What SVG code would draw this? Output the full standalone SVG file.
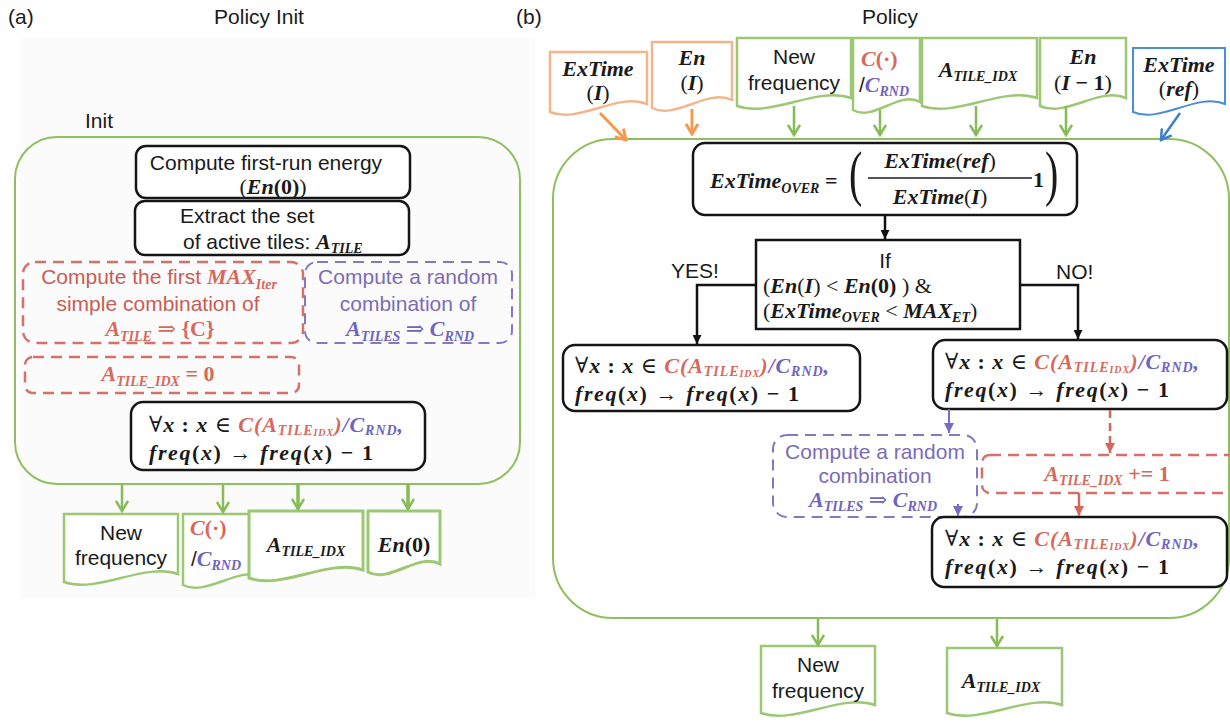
<svg xmlns="http://www.w3.org/2000/svg" width="1230" height="723" viewBox="0 0 1230 723">
<defs>
<style>
.t{font-family:"Liberation Sans",Arial,sans-serif;font-size:21px;fill:#1a1a1a}
.m{font-family:"Liberation Serif","DejaVu Serif",serif;font-size:22px;font-weight:bold;font-style:italic;fill:#1a1a1a}
.s{font-size:14px}
.ss{font-size:10px}
.u{font-style:normal}
.n{font-style:normal;font-weight:normal}
.big{font-family:"Liberation Serif",serif;font-size:40px;font-weight:normal;fill:#1a1a1a}
.red{fill:#d6695c}
.pur{fill:#6f64bf}
.rt{fill:#c95d55}
.pt{fill:#7b6cb5}
.bx{fill:#fff;stroke:#151515;stroke-width:2.5}
.grp{fill:none;stroke:#8fbf5f;stroke-width:2}
.rd{fill:none;stroke:#d4716a;stroke-width:2.5;stroke-dasharray:11 7}
.pd{fill:none;stroke:#8478c4;stroke-width:2;stroke-dasharray:11 7}
.gd{fill:#fff;stroke:#9cc874;stroke-width:2.5}
.od{fill:#fff;stroke:#f1b68c;stroke-width:2.5}
.bd{fill:#fff;stroke:#4a8ed6;stroke-width:2}
.ga{fill:none;stroke:#86bb55;stroke-width:2.5}
.oa{fill:none;stroke:#f39a4c;stroke-width:3}
.ba{fill:none;stroke:#3d7fcf;stroke-width:2.5}
.ka{fill:none;stroke:#111;stroke-width:2.5}
.pa{fill:none;stroke:#7a6cc4;stroke-width:2}
.ra{fill:none;stroke:#d4665c;stroke-width:2.5}
</style>
<marker id="mg" viewBox="0 0 14 14" refX="12" refY="7" markerWidth="14" markerHeight="14" markerUnits="userSpaceOnUse" orient="auto"><path d="M2,1 L12,7 L2,13" fill="none" stroke="#86bb55" stroke-width="2.5"/></marker>
<marker id="mo" viewBox="0 0 14 14" refX="12" refY="7" markerWidth="14" markerHeight="14" markerUnits="userSpaceOnUse" orient="auto"><path d="M2,1 L12,7 L2,13" fill="none" stroke="#f39a4c" stroke-width="3"/></marker>
<marker id="mb" viewBox="0 0 14 14" refX="12" refY="7" markerWidth="14" markerHeight="14" markerUnits="userSpaceOnUse" orient="auto"><path d="M2,1 L12,7 L2,13" fill="none" stroke="#3d7fcf" stroke-width="2.5"/></marker>
<marker id="mk" viewBox="0 0 10 10" refX="10" refY="5" markerWidth="9" markerHeight="9" markerUnits="userSpaceOnUse" orient="auto"><path d="M0,0 L10,5 L0,10 z" fill="#111"/></marker>
<marker id="mp" viewBox="0 0 10 10" refX="10" refY="5" markerWidth="10" markerHeight="10" markerUnits="userSpaceOnUse" orient="auto"><path d="M0,0 L10,5 L0,10 z" fill="#7a6cc4"/></marker>
<marker id="mr" viewBox="0 0 10 10" refX="10" refY="5" markerWidth="10" markerHeight="10" markerUnits="userSpaceOnUse" orient="auto"><path d="M0,0 L10,5 L0,10 z" fill="#d4665c"/></marker>
</defs>

<rect width="1230" height="723" fill="#fff"/>
<rect x="20" y="38" width="515" height="560" fill="#fbfbfb"/>

<g id="titles">
<text class="t" x="8" y="24">(a)</text>
<text class="t" x="259" y="24" text-anchor="middle">Policy Init</text>
<text class="t" x="516" y="24">(b)</text>
<text class="t" x="890" y="24" text-anchor="middle">Policy</text>
</g>

<!-- ===== Panel (a) ===== -->
<g id="init-group">
<text class="t" x="85" y="128">Init</text>
<rect class="grp" x="15" y="137" width="505" height="347" rx="42"/>
</g>

<g id="a-energy">
<rect class="bx" x="136" y="146" width="274" height="52" rx="10"/>
<text class="t" x="266" y="170" text-anchor="middle">Compute first-run energy</text>
<text class="m" x="273" y="194" text-anchor="middle"><tspan class="n">(</tspan>En<tspan class="u">(0)</tspan><tspan class="n">)</tspan></text>
</g>

<g id="a-extract">
<rect class="bx" x="135" y="201" width="274" height="54" rx="10"/>
<text class="t" x="180" y="223">Extract the set</text>
<text class="t" x="183" y="249">of active tiles: <tspan class="m">A</tspan><tspan class="m s" dy="4">TILE</tspan></text>
</g>

<g id="a-first-comb">
<rect class="rd" x="23" y="262" width="280" height="81" rx="12"/>
<text class="t rt" x="159" y="284" text-anchor="middle">Compute the first <tspan class="m red">MAX</tspan><tspan class="m red s" dy="5">Iter</tspan></text>
<text class="t rt" x="158" y="311" text-anchor="middle">simple combination of</text>
<text class="m red" x="160" y="336" text-anchor="middle">A<tspan class="s" dy="5">TILE</tspan><tspan class="n" dy="-5"> ⇒ </tspan><tspan class="u">{C}</tspan></text>
</g>

<g id="a-random-comb">
<rect class="pd" x="305" y="262" width="207" height="81" rx="12"/>
<text class="t pt" x="408" y="284" text-anchor="middle">Compute a random</text>
<text class="t pt" x="408" y="311" text-anchor="middle">combination of</text>
<text class="m pur" x="410" y="336" text-anchor="middle">A<tspan class="s" dy="5">TILES</tspan><tspan class="n" dy="-5"> ⇒ </tspan>C<tspan class="s" dy="5">RND</tspan></text>
</g>

<g id="a-idx0">
<rect class="rd" x="25" y="357" width="274" height="36" rx="8"/>
<text class="m red" x="158" y="381" text-anchor="middle">A<tspan class="s" dy="5">TILE_IDX</tspan><tspan class="u" dy="-5"> = 0</tspan></text>
</g>

<g id="a-freq">
<rect class="bx" x="131" y="402" width="294" height="68" rx="12"/>
<text class="m" x="149" y="432" textLength="254"><tspan class="n">∀</tspan>x<tspan class="u"> : </tspan>x <tspan class="n">∈</tspan> <tspan class="red">C(A</tspan><tspan class="red s" dy="3">TILE</tspan><tspan class="red ss" dy="1">IDX</tspan><tspan class="red" dy="-4">)</tspan><tspan class="pur">/C</tspan><tspan class="pur s" dy="3">RND</tspan><tspan class="pur" dy="-3">,</tspan></text>
<text class="m" x="149" y="460" textLength="224">freq<tspan class="u">(</tspan>x<tspan class="u">)</tspan> → freq<tspan class="u">(</tspan>x<tspan class="u">) − 1</tspan></text>
</g>

<g id="a-out-newfreq">
<path class="gd" d="M64,514 H178 V574 C143.8,562 98.2,594 64,582 Z"/>
<text class="t" x="121" y="540" text-anchor="middle">New</text>
<text class="t" x="121" y="565" text-anchor="middle">frequency</text>
</g>
<g id="a-out-comb">
<path class="gd" d="M183,514 H263 V577 C239,565 207,597 183,585 Z"/>
<text class="m red" x="190" y="535">C<tspan class="u">(·)</tspan></text>
<text class="t" x="191" y="566">/<tspan class="m pur">C</tspan><tspan class="m pur s" dy="4">RND</tspan></text>
</g>
<g id="a-out-idx">
<path class="gd" d="M249,511 H363 V570 C328.8,558 283.2,590 249,578 Z" style="stroke-width:3"/>
<text class="m" x="306" y="552" text-anchor="middle">A<tspan class="s" dy="4">TILE_IDX</tspan></text>
</g>
<g id="a-out-en0">
<path class="gd" d="M368,511 H440 V564 C418.4,552 389.6,584 368,572 Z" style="stroke-width:3"/>
<text class="m" x="404" y="552" text-anchor="middle">En<tspan class="u">(0)</tspan></text>
</g>

<!-- ===== Panel (b) ===== -->
<g id="policy-group">
<rect class="grp" x="553" y="139" width="676" height="479" rx="60"/>
</g>

<g id="in-extime-i">
<path class="od" d="M550,52 H647 V104 C617.9,92 579.1,124 550,112 Z"/>
<text class="m" x="598" y="76" text-anchor="middle">ExTime</text>
<text class="m" x="598" y="100" text-anchor="middle"><tspan class="n">(</tspan>I<tspan class="n">)</tspan></text>
</g>
<g id="in-en-i">
<path class="od" d="M652,42 H732 V100 C708,88 676,120 652,108 Z"/>
<text class="m" x="692" y="65" text-anchor="middle">En</text>
<text class="m" x="692" y="90" text-anchor="middle"><tspan class="n">(</tspan>I<tspan class="n">)</tspan></text>
</g>
<g id="in-newfreq">
<path class="gd" d="M737,38 H851 V98 C816.8,86 771.2,118 737,106 Z"/>
<text class="t" x="794" y="64" text-anchor="middle">New</text>
<text class="t" x="794" y="90" text-anchor="middle">frequency</text>
</g>
<g id="in-comb">
<path class="gd" d="M853,38 H920 V102 C899.9,90 873.1,122 853,110 Z"/>
<text class="m red" x="861" y="66">C<tspan class="u">(·)</tspan></text>
<text class="t" x="859" y="92">/<tspan class="m pur">C</tspan><tspan class="m pur s" dy="4">RND</tspan></text>
</g>
<g id="in-idx">
<path class="gd" d="M922,38 H1037 V98 C1002.5,86 956.5,118 922,106 Z"/>
<text class="m" x="978" y="77" text-anchor="middle">A<tspan class="s" dy="4">TILE_IDX</tspan></text>
</g>
<g id="in-en-prev">
<path class="gd" d="M1040,38 H1126 V98 C1100.2,86 1065.8,118 1040,106 Z"/>
<text class="m" x="1083" y="64" text-anchor="middle">En</text>
<text class="m" x="1083" y="90" text-anchor="middle"><tspan class="n">(</tspan>I<tspan class="u"> − 1</tspan><tspan class="n">)</tspan></text>
</g>
<g id="in-extime-ref">
<path class="bd" d="M1133,48 H1225 V104 C1197.4,92 1160.6,124 1133,112 Z"/>
<text class="m" x="1179" y="72" text-anchor="middle">ExTime</text>
<text class="m" x="1179" y="96" text-anchor="middle"><tspan class="n">(</tspan>ref<tspan class="n">)</tspan></text>
</g>

<g id="b-overtime">
<rect class="bx" x="693" y="143" width="384" height="72" rx="12"/>
<text class="m" x="710" y="188">ExTime<tspan class="s" dy="5">OVER</tspan><tspan class="u" dy="-5"> =</tspan></text>
<text class="big" transform="translate(849,194) scale(1,1.55)">(</text>
<text class="m" x="940" y="168" text-anchor="middle">ExTime<tspan class="n">(</tspan>ref<tspan class="n">)</tspan></text>
<line x1="868" y1="178" x2="1032" y2="178" stroke="#1a1a1a" stroke-width="1.5"/>
<text class="m" x="940" y="204" text-anchor="middle">ExTime<tspan class="n">(</tspan>I<tspan class="n">)</tspan></text>
<text class="m u" x="1033" y="187">1</text>
<text class="big" transform="translate(1045,194) scale(1,1.55)">)</text>
</g>

<g id="b-if">
<rect class="bx" x="756" y="240" width="264" height="89"/>
<text class="t" x="885" y="268" text-anchor="middle">If</text>
<text class="m" x="763" y="293"><tspan class="n">(</tspan>En<tspan class="n">(</tspan>I<tspan class="n">) &lt; </tspan>En<tspan class="u">(0)</tspan><tspan class="n"> ) &amp;</tspan></text>
<text class="m" x="763" y="318"><tspan class="n">(</tspan>ExTime<tspan class="s" dy="4">OVER</tspan><tspan class="n" dy="-4"> &lt; </tspan>MAX<tspan class="s" dy="4">ET</tspan><tspan class="n" dy="-4">)</tspan></text>
</g>

<g id="b-yes-freq">
<rect class="bx" x="563" y="345" width="297" height="66" rx="12"/>
<text class="m" x="575" y="373" textLength="254"><tspan class="n">∀</tspan>x<tspan class="u"> : </tspan>x <tspan class="n">∈</tspan> <tspan class="red">C(A</tspan><tspan class="red s" dy="3">TILE</tspan><tspan class="red ss" dy="1">IDX</tspan><tspan class="red" dy="-4">)</tspan><tspan class="pur">/C</tspan><tspan class="pur s" dy="3">RND</tspan><tspan class="pur" dy="-3">,</tspan></text>
<text class="m" x="575" y="401" textLength="224">freq<tspan class="u">(</tspan>x<tspan class="u">)</tspan> → freq<tspan class="u">(</tspan>x<tspan class="u">) − 1</tspan></text>
</g>

<g id="b-no-freq">
<rect class="bx" x="933" y="340" width="294" height="69" rx="12"/>
<text class="m" x="945" y="369" textLength="254"><tspan class="n">∀</tspan>x<tspan class="u"> : </tspan>x <tspan class="n">∈</tspan> <tspan class="red">C(A</tspan><tspan class="red s" dy="3">TILE</tspan><tspan class="red ss" dy="1">IDX</tspan><tspan class="red" dy="-4">)</tspan><tspan class="pur">/C</tspan><tspan class="pur s" dy="3">RND</tspan><tspan class="pur" dy="-3">,</tspan></text>
<text class="m" x="945" y="397" textLength="224">freq<tspan class="u">(</tspan>x<tspan class="u">)</tspan> → freq<tspan class="u">(</tspan>x<tspan class="u">) − 1</tspan></text>
</g>

<g id="b-random">
<rect class="pd" x="773" y="435" width="204" height="82" rx="14"/>
<text class="t pt" x="875" y="459" text-anchor="middle">Compute a random</text>
<text class="t pt" x="875" y="483" text-anchor="middle">combination</text>
<text class="m pur" x="873" y="507" text-anchor="middle">A<tspan class="s" dy="4">TILES</tspan><tspan class="n" dy="-4"> ⇒ </tspan>C<tspan class="s" dy="4">RND</tspan></text>
</g>

<g id="b-idx-inc">
<rect class="rd" x="982" y="455" width="262" height="38" rx="8"/>
<text class="m red" x="1107" y="481" text-anchor="middle">A<tspan class="s" dy="4">TILE_IDX</tspan><tspan class="u" dy="-4"> += 1</tspan></text>
</g>

<g id="b-final-freq">
<rect class="bx" x="932" y="517" width="295" height="70" rx="12"/>
<text class="m" x="945" y="546" textLength="254"><tspan class="n">∀</tspan>x<tspan class="u"> : </tspan>x <tspan class="n">∈</tspan> <tspan class="red">C(A</tspan><tspan class="red s" dy="3">TILE</tspan><tspan class="red ss" dy="1">IDX</tspan><tspan class="red" dy="-4">)</tspan><tspan class="pur">/C</tspan><tspan class="pur s" dy="3">RND</tspan><tspan class="pur" dy="-3">,</tspan></text>
<text class="m" x="945" y="574" textLength="224">freq<tspan class="u">(</tspan>x<tspan class="u">)</tspan> → freq<tspan class="u">(</tspan>x<tspan class="u">) − 1</tspan></text>
</g>

<g id="b-out-newfreq">
<path class="gd" d="M761,646 H875 V705 C840.8,693 795.2,725 761,713 Z"/>
<text class="t" x="818" y="672" text-anchor="middle">New</text>
<text class="t" x="818" y="698" text-anchor="middle">frequency</text>
</g>
<g id="b-out-idx">
<path class="gd" d="M947,648 H1062 V705 C1027.5,693 981.5,725 947,713 Z"/>
<text class="m" x="1001" y="688" text-anchor="middle">A<tspan class="s" dy="4">TILE_IDX</tspan></text>
</g>

<g id="b-labels">
<text class="t" x="671" y="278">YES!</text>
<text class="t" x="1056" y="279">NO!</text>
</g>

<g id="connectors">
<line class="ga" x1="122" y1="484" x2="122" y2="511" marker-end="url(#mg)"/>
<line class="ga" x1="223" y1="484" x2="223" y2="512" marker-end="url(#mg)"/>
<line class="ga" x1="298" y1="484" x2="298" y2="509" marker-end="url(#mg)" style="stroke-width:3.5"/>
<line class="ga" x1="408" y1="484" x2="408" y2="509" marker-end="url(#mg)" style="stroke-width:3.5"/>

<line class="oa" x1="600" y1="113" x2="626" y2="140" marker-end="url(#mo)"/>
<line class="oa" x1="692" y1="109" x2="692" y2="134" marker-end="url(#mo)"/>
<line class="ga" x1="794" y1="106" x2="794" y2="135" marker-end="url(#mg)"/>
<line class="ga" x1="880" y1="110" x2="880" y2="135" marker-end="url(#mg)"/>
<line class="ga" x1="976" y1="106" x2="976" y2="135" marker-end="url(#mg)"/>
<line class="ga" x1="1066" y1="106" x2="1066" y2="135" marker-end="url(#mg)"/>
<line class="ba" x1="1180" y1="113" x2="1161" y2="140" marker-end="url(#mb)"/>

<line class="ka" x1="885" y1="215" x2="885" y2="239" marker-end="url(#mk)"/>
<path class="ka" d="M756,285 H697 V344" marker-end="url(#mk)"/>
<path class="ka" d="M1020,285 H1078 V339" marker-end="url(#mk)"/>
<line class="pa" x1="949" y1="409" x2="949" y2="433" marker-end="url(#mp)"/>
<line class="ra" x1="1110" y1="410" x2="1110" y2="453" marker-end="url(#mr)" style="stroke-dasharray:8 5"/>
<line class="ra" x1="1079" y1="493" x2="1079" y2="516" marker-end="url(#mr)"/>
<line class="pa" x1="958" y1="504" x2="958" y2="516" marker-end="url(#mp)"/>

<line class="ga" x1="818" y1="619" x2="818" y2="645" marker-end="url(#mg)"/>
<line class="ga" x1="997" y1="619" x2="997" y2="646" marker-end="url(#mg)"/>
</g>
</svg>
